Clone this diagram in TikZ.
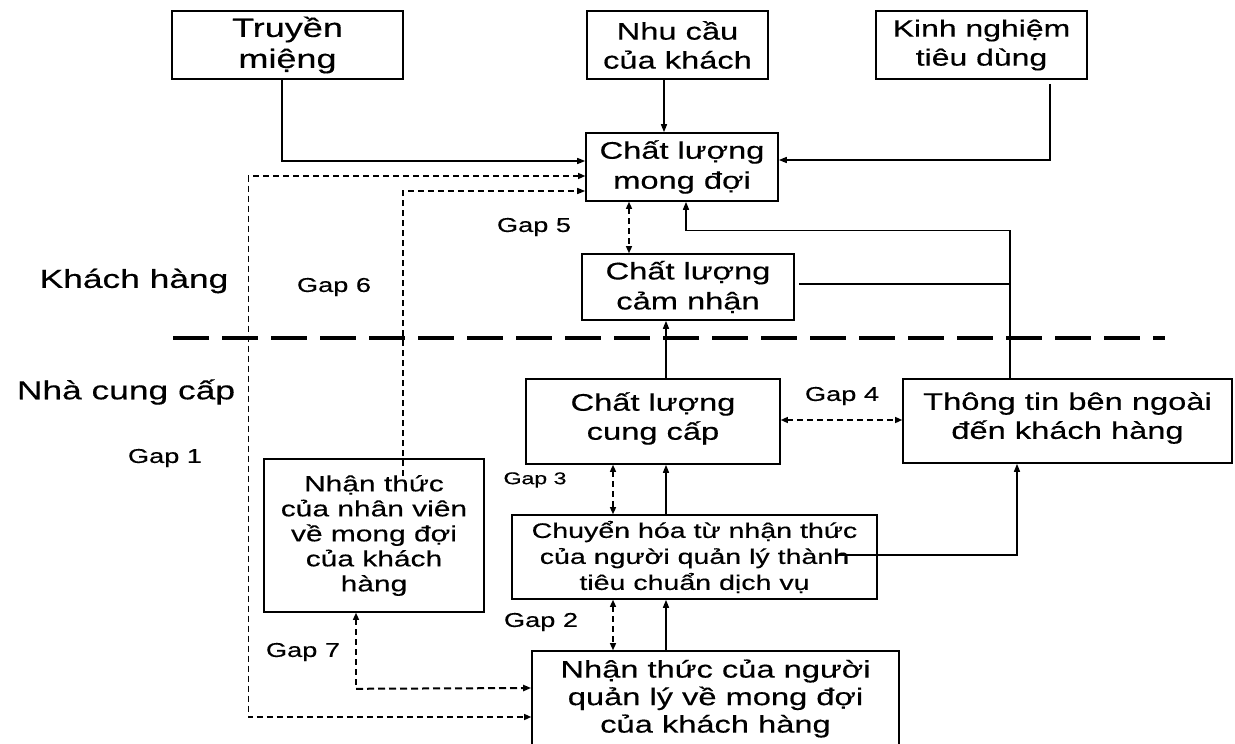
\documentclass[tikz,border=0pt]{standalone}
\usepackage{fontspec}
\setmainfont[FakeStretch=1.36,FakeBold=0.4]{Liberation Sans}
\usetikzlibrary{arrows.meta}
\tikzset{
  box/.style={draw, line width=1.6pt, align=center, inner sep=0pt},
  conn/.style={line width=1.4pt},
  dconn/.style={line width=1.3pt, dash pattern=on 6pt off 4pt},
  arr/.style={-{Triangle[length=8pt,width=6pt]}},
  darr/.style={{Triangle[length=7pt,width=6pt]}-{Triangle[length=7pt,width=6pt]}},
  sarr/.style={{Triangle[length=7pt,width=6pt]}-},
  lbl/.style={inner sep=0pt, font=\fontsize{20}{24}\selectfont},
  side/.style={inner sep=0pt, font=\fontsize{26}{30}\selectfont}
}
\begin{document}
\begin{tikzpicture}[x=1pt,y=-1pt]
\useasboundingbox (0,0) rectangle (1235,744);
\fill[white] (0,0) rectangle (1235,744);

% boxes
\node[box, minimum width=231pt, minimum height=68pt, font=\fontsize{26.5}{31}\selectfont] (tru) at (287.5,45) {Truyền\\miệng};
\node[box, minimum width=181pt, minimum height=68pt, font=\fontsize{24}{29}\selectfont] (nhu) at (677.5,45) {Nhu cầu\\của khách};
\node[box, minimum width=211pt, minimum height=68pt, font=\fontsize{23.5}{29}\selectfont] (kinh) at (981.5,45) {Kinh nghiệm\\tiêu dùng};
\node[box, minimum width=192pt, minimum height=68pt, font=\fontsize{24}{30}\selectfont] (clmd) at (682,167) {Chất lượng\\mong đợi};
\node[box, minimum width=212pt, minimum height=66pt, font=\fontsize{24}{30}\selectfont] (clcn) at (688,287) {Chất lượng\\cảm nhận};
\node[box, minimum width=254pt, minimum height=85pt, font=\fontsize{24}{29}\selectfont] (clcc) at (653,421.5) {Chất lượng\\cung cấp\\[-18pt]};
\node[box, minimum width=329pt, minimum height=84pt, font=\fontsize{24}{29}\selectfont] (tt) at (1067.5,421) {Thông tin bên ngoài\\đến khách hàng\\[-18pt]};
\node[box, minimum width=220pt, minimum height=153pt, font=\fontsize{22}{25}\selectfont] (ntnv) at (374,535.5) {Nhận thức\\của nhân viên\\về mong đợi\\của khách\\hàng};
\node[box, minimum width=365pt, minimum height=84pt, font=\fontsize{21}{26}\selectfont] (chuyen) at (694.5,557) {Chuyển hóa từ nhận thức\\của người quản lý thành\\tiêu chuẩn dịch vụ};
\node[box, minimum width=367pt, minimum height=95pt, font=\fontsize{24}{27.5}\selectfont] (ntql) at (715.5,698.5) {Nhận thức của người\\quản lý về mong đợi\\của khách hàng};

% side labels
\node[side] (kh) at (134,281) {Khách hàng};
\node[side] (ncc) at (126,392) {Nhà cung cấp};

% gap labels
\node[lbl] (g5) at (534,227) {Gap 5};
\node[lbl] (g6) at (334,287) {Gap 6};
\node[lbl] (g1) at (165,458) {Gap 1};
\node[inner sep=0pt, font=\fontsize{17}{20}\selectfont] (g3) at (535,480) {Gap 3};
\node[lbl] (g2) at (541,622) {Gap 2};
\node[lbl] (g7) at (303,652) {Gap 7};
\node[lbl] (g4) at (842,396) {Gap 4};

% divider
\draw[line width=4pt, dash pattern=on 36pt off 13pt] (173,338) -- (1165,338);

% solid connectors
\draw[conn,arr] ([xshift=-5.5pt]tru.south) |- ([yshift=6pt]clmd.west);
\draw[conn,arr] ([xshift=-13.5pt]nhu.south) -- ([xshift=-18pt]clmd.north);
\draw[conn,arr] ([xshift=68.5pt,yshift=-4pt]kinh.south) |- ([yshift=7pt]clmd.east);
\draw[conn,arr] ([xshift=-57.5pt]tt.north) -- ++(0,-148) -| ([xshift=4pt]clmd.south);
\draw[conn] ([xshift=4pt,yshift=3pt]clcn.east) -- ++(212,0);
\draw[conn,arr] ([xshift=13pt]clcc.north) -- ([xshift=-22pt]clcn.south);
\draw[conn,arr] ([xshift=-28.5pt]chuyen.north) -- ([xshift=13pt]clcc.south);
\draw[conn,arr] ([xshift=-40pt,yshift=2pt]chuyen.east) -| ([xshift=-50.5pt]tt.south);
\draw[conn,arr] ([xshift=-49.5pt]ntql.north) -- ([xshift=-28.5pt]chuyen.south);

% dashed connectors
\draw[dconn,darr] ([yshift=-9pt]clmd.west) -- ++(-337,0) |- ([yshift=-18.5pt]ntql.west);
\draw[dconn,arr] ([xshift=29pt,yshift=-18pt]ntnv.north) |- ([yshift=-24pt]clmd.west);
\draw[dconn,darr] ([xshift=-53pt]clmd.south) -- ([xshift=-59pt]clcn.north);
\draw[dconn,darr] ([yshift=1.5pt]clcc.east) -- ([yshift=1pt]tt.west);
\draw[dconn,darr] ([xshift=-40pt]clcc.south) -- ([xshift=-81.5pt]chuyen.north);
\draw[dconn,darr] ([xshift=-81.5pt]chuyen.south) -- ([xshift=-102.5pt]ntql.north);
\draw[dconn,sarr] ([xshift=-18pt]ntnv.south) -- ++(0,76) coordinate (g7c);
\draw[line width=2pt, dash pattern=on 7pt off 4pt, arr] (g7c) -- ([yshift=10.5pt]ntql.west);
\end{tikzpicture}
\end{document}
